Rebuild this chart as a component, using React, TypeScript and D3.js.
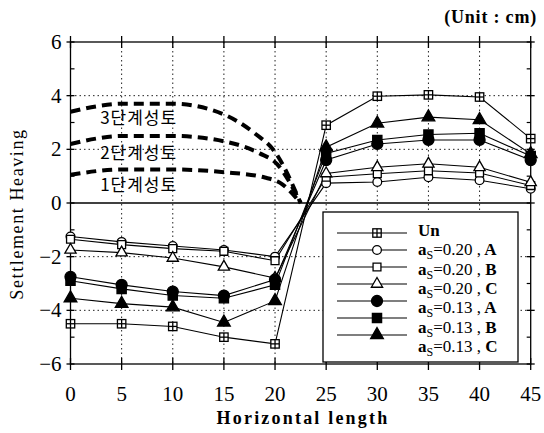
import React from 'react';
import * as d3 from 'd3';

// horizontal positions (cm from centre) and readings
const xs = [0, 5, 10, 15, 20, 25, 30, 35, 40, 45];

const unVals = [-4.5, -4.5, -4.6, -5.0, -5.25, 2.9, 3.98, 4.03, 3.95, 2.4];
const a20A = [-1.25, -1.45, -1.6, -1.75, -2.0, 0.74, 0.78, 0.96, 0.85, 0.53];
const a20B = [-1.35, -1.55, -1.7, -1.8, -2.15, 0.96, 1.09, 1.2, 1.12, 0.65];
const a20C = [-1.75, -1.85, -2.05, -2.38, -2.8, 1.1, 1.33, 1.46, 1.33, 0.77];
const a13A = [-2.75, -3.05, -3.3, -3.45, -2.85, 1.6, 2.2, 2.35, 2.35, 1.6];
const a13B = [-2.9, -3.2, -3.45, -3.55, -3.05, 1.85, 2.35, 2.55, 2.6, 1.75];
const a13C = [-3.55, -3.75, -3.88, -4.45, -3.65, 2.08, 2.97, 3.2, 3.1, 1.83];

const seriesNames = ['Un', '0.20 , A', '0.20 , B', '0.20 , C', '0.13 , A', '0.13 , B', '0.13 , C'];

// embankment stage profiles (dashed)
const stage3X = [0, 2.5, 5, 10, 15, 18, 20, 22.5];
const stage3Y = [3.4, 3.6, 3.7, 3.7, 3.3, 2.6, 1.9, 0];
const stage2X = [0, 2.5, 5, 10, 15, 18.5, 20.2, 22.5];
const stage2Y = [2.2, 2.4, 2.5, 2.5, 2.3, 1.85, 1.45, 0];
const stage1X = [0, 5, 10, 15, 19, 20.5, 22.5];
const stage1Y = [1.05, 1.25, 1.25, 1.15, 0.95, 0.75, 0];
const stageLabels = ['3단계성토', '2단계성토', '1단계성토'];

const yTicks = [6, 4, 2, 0, -2, -4, -6];
const xTicks = [0, 5, 10, 15, 20, 25, 30, 35, 40, 45];

const x = d3.scaleLinear().domain([0, 45]).range([70.5, 530.7]);
const y = d3.scaleLinear().domain([-6, 6]).range([364, 42]);

const serif = { fontFamily: "'Liberation Serif'" };
const kr = { fontFamily: "'Noto Sans CJK KR'" };

type Kind = 'un' | 'oc' | 'os' | 'ot' | 'fc' | 'fs' | 'ft';
const kinds: Kind[] = ['un', 'oc', 'os', 'ot', 'fc', 'fs', 'ft'];
const allSeries = [unVals, a20A, a20B, a20C, a13A, a13B, a13C];

const Marker = ({ kind, cx, cy }: { kind: Kind; cx: number; cy: number }) => {
  const t = `translate(${cx},${cy})`;
  if (kind === 'un') {
    return (
      <g transform={t} stroke="#000" strokeWidth={1.3}>
        <rect x={-4.2} y={-4.2} width={8.4} height={8.4} fill="#fff" />
        <line x1={-4.2} x2={4.2} y1={0} y2={0} />
        <line x1={0} x2={0} y1={-4.2} y2={4.2} />
      </g>
    );
  }
  const open = kind[0] === 'o';
  const shape = kind[1] === 'c' ? d3.symbolCircle : kind[1] === 's' ? d3.symbolSquare : d3.symbolTriangle;
  const size = open ? (kind[1] === 't' ? 55 : kind[1] === 'c' ? 60 : 62) : (kind[1] === 't' ? 70 : kind[1] === 'c' ? 95 : 85);
  const p = d3.symbol().type(shape).size(size)() as string;
  return (
    <path transform={t} d={p} fill={open ? '#fff' : '#000'} stroke="#000" strokeWidth={1.3} />
  );
};

const App = () => {
  const line = d3.line<number>().x((_, i) => x(xs[i])).y((d) => y(d));
  const stageLine = (sx: number[]) =>
    d3.line<number>().x((_, i) => x(sx[i])).y((d) => y(d)).curve(d3.curveMonotoneX);

  const stages = [
    { sx: stage3X, sy: stage3Y },
    { sx: stage2X, sy: stage2Y },
    { sx: stage1X, sy: stage1Y },
  ];

  return (
    <svg width={544} height={433} style={{ position: 'absolute', left: 0, top: 0, background: '#fff' }}>
      <rect width={544} height={433} fill="#fff" />

      {/* grid */}
      {xTicks.slice(1, -1).map((t) => (
        <line key={'gx' + t} x1={x(t)} x2={x(t)} y1={y(6)} y2={y(-6)} stroke="#222" strokeWidth={1} strokeDasharray="1.5,3" />
      ))}
      {[4, 2, -2, -4].map((t) => (
        <line key={'gy' + t} x1={x(0)} x2={x(45)} y1={y(t)} y2={y(t)} stroke="#222" strokeWidth={1} strokeDasharray="1.5,3" />
      ))}
      <line x1={x(0)} x2={x(45)} y1={y(0)} y2={y(0)} stroke="#000" strokeWidth={1.6} />

      {/* frame */}
      <rect x={x(0)} y={y(6)} width={x(45) - x(0)} height={y(-6) - y(6)} fill="none" stroke="#000" strokeWidth={1.3} />
      {xTicks.map((t) => (
        <g key={'tx' + t} stroke="#000" strokeWidth={1.3}>
          <line x1={x(t)} x2={x(t)} y1={y(6) - 6} y2={y(6) + 6} />
          <line x1={x(t)} x2={x(t)} y1={y(-6) - 6} y2={y(-6) + 6} />
        </g>
      ))}
      {yTicks.map((t) => (
        <g key={'ty' + t} stroke="#000" strokeWidth={1.3}>
          <line x1={x(0) - 4} x2={x(0) + 4} y1={y(t)} y2={y(t)} />
          <line x1={x(45) - 4} x2={x(45) + 4} y1={y(t)} y2={y(t)} />
        </g>
      ))}
      {[5, 3, 1, -1, -3, -5].map((t) => (
        <g key={'my' + t} stroke="#000" strokeWidth={1.2}>
          <line x1={x(0)} x2={x(0) + 4} y1={y(t)} y2={y(t)} />
          <line x1={x(45) - 4} x2={x(45)} y1={y(t)} y2={y(t)} />
        </g>
      ))}

      {/* tick labels */}
      {yTicks.map((t) => (
        <text key={'ly' + t} x={x(0) - 9} y={y(t) + 7} textAnchor="end" style={serif} fontSize={21} fill="#000">
          {t < 0 ? '\u2212' + Math.abs(t) : t}
        </text>
      ))}
      {xTicks.map((t) => (
        <text key={'lx' + t} x={x(t)} y={401} textAnchor="middle" style={serif} fontSize={21} fill="#000">
          {t}
        </text>
      ))}

      {/* axis titles */}
      <text x={303} y={424} textAnchor="middle" style={serif} fontSize={18} fontWeight="bold" letterSpacing={2.2} fill="#000">
        Horizontal length
      </text>
      <text transform="translate(23,214) rotate(-90)" textAnchor="middle" style={serif} fontSize={18} letterSpacing={1.6} fill="#000">
        Settlement Heaving
      </text>
      <text x={537} y={23} textAnchor="end" style={serif} fontSize={18} fontWeight="bold" letterSpacing={0.8} fill="#000">
        (Unit : cm)
      </text>

      {/* embankment stages */}
      {stages.map((s, i) => (
        <path key={'st' + i} d={stageLine(s.sx)(s.sy) as string} fill="none" stroke="#000" strokeWidth={4} strokeDasharray="10,6" />
      ))}
      {stageLabels.map((lab, i) => (
        <text key={'sl' + i} x={x(2.9)} y={[124, 159, 191][i]} style={kr} fontSize={17} letterSpacing={1} fill="#000">
          {lab}
        </text>
      ))}

      {/* data lines */}
      {allSeries.map((s, i) => (
        <path key={'ln' + i} d={line(s) as string} fill="none" stroke="#000" strokeWidth={1.1} />
      ))}
      {allSeries.map((s, i) => (
        <g key={'mk' + i}>
          {s.map((v, j) => (
            <Marker key={j} kind={kinds[i]} cx={x(xs[j])} cy={y(v)} />
          ))}
        </g>
      ))}

      {/* legend */}
      <rect x={323} y={212} width={195} height={150} fill="#fff" stroke="#000" strokeWidth={1.3} />
      {seriesNames.map((name, i) => (
        <g key={'lg' + i}>
          <line x1={337} x2={407} y1={233 + i * 17} y2={233 + i * 17} stroke="#000" strokeWidth={1.2} />
          <Marker kind={kinds[i]} cx={377} cy={233 + i * 17} />
          <text x={418} y={236 + i * 19.3} style={serif} fontSize={17} fill="#000">
            {i === 0 ? (
              <tspan fontWeight="bold">Un</tspan>
            ) : (
              <>
                <tspan fontWeight="bold">a</tspan>
                <tspan fontSize={12} dy={4}>S</tspan>
                <tspan dy={-4}>={name.split(',')[0]},</tspan>
                <tspan fontWeight="bold"> {name.split(',')[1].trim()}</tspan>
              </>
            )}
          </text>
        </g>
      ))}
    </svg>
  );
};

export default App;
